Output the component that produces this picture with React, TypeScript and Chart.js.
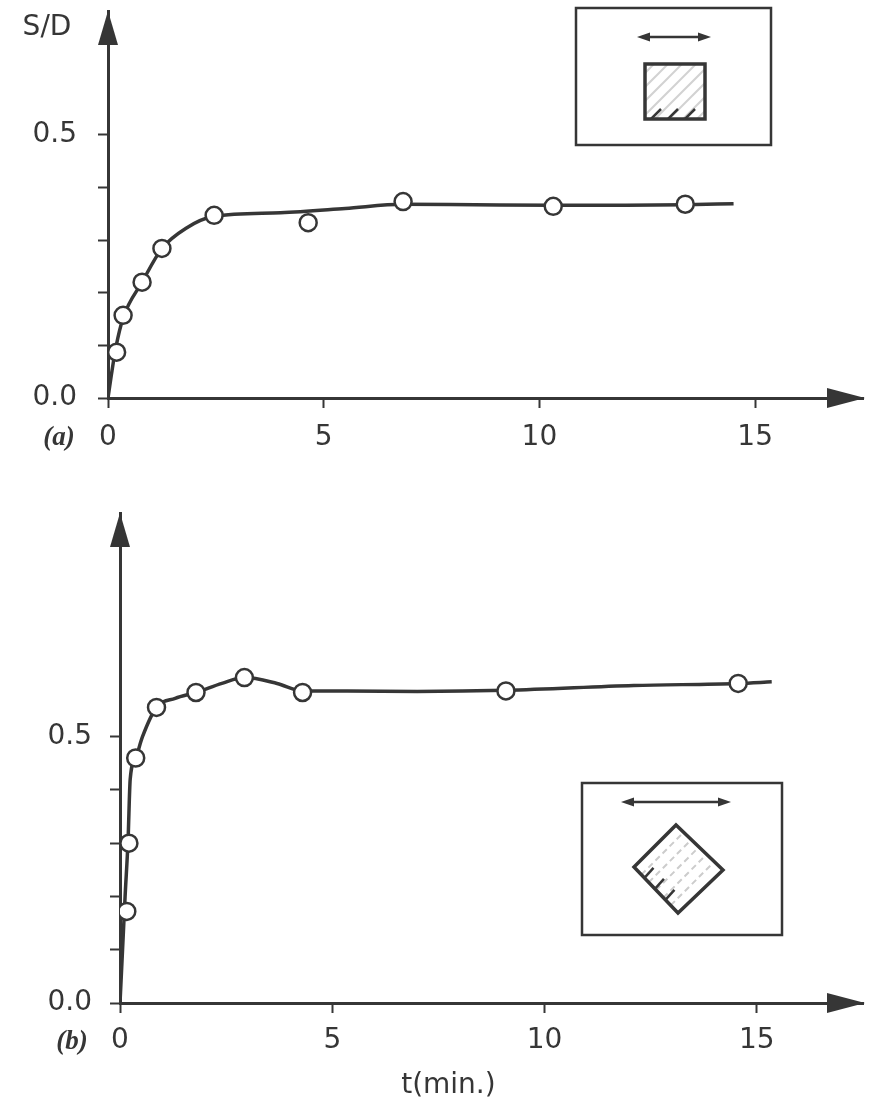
import React, { useEffect, useRef } from 'react';
import { Chart, registerables } from 'chart.js';

Chart.register(...registerables);

// ---------- data ----------
// Panel (a): square inclusion
const aPointsT = [0.2, 0.35, 0.79, 1.25, 2.46, 4.64, 6.84, 10.32, 13.38];
const aPointsSD = [0.087, 0.157, 0.22, 0.284, 0.347, 0.333, 0.373, 0.364, 0.368];
const aCurveT = [0, 0.08, 0.18, 0.35, 0.79, 1.25, 1.8, 2.46, 4.0, 5.5, 6.84, 8.5, 10.32, 12.0, 13.38, 14.5];
const aCurveSD = [0, 0.045, 0.095, 0.152, 0.22, 0.284, 0.322, 0.345, 0.352, 0.36, 0.368, 0.367, 0.366, 0.366, 0.367, 0.369];

// Panel (b): diamond inclusion
const bPointsT = [0.16, 0.21, 0.37, 0.86, 1.79, 2.93, 4.3, 9.09, 14.56];
const bPointsSD = [0.172, 0.3, 0.46, 0.555, 0.583, 0.611, 0.583, 0.586, 0.6];
const bCurveT = [0, 0.06, 0.12, 0.19, 0.24, 0.37, 0.53, 0.86, 1.3, 1.79, 2.4, 2.93, 3.7, 4.3, 5.35, 7.0, 9.09, 12.1, 14.56, 15.35];
const bCurveSD = [0, 0.1, 0.2, 0.306, 0.42, 0.46, 0.5, 0.555, 0.572, 0.583, 0.6, 0.611, 0.6, 0.586, 0.586, 0.585, 0.587, 0.596, 0.6, 0.603];

// axes
const xTickValues = [0, 5, 10, 15];
const yTickValues = [0, 0.1, 0.2, 0.3, 0.4, 0.5];
const yLabelValues = [0, 0.5];
const X_MAX = 17.5;
const A_Y_MAX = 0.735;
const B_Y_MAX = 0.92;

const INK = '#363636';
const FAMILY = "'DejaVu Sans', 'Liberation Sans', sans-serif";
const TICK_FONT = { family: FAMILY, size: 28, weight: 'normal' as any };

type Panel = {
  pointsT: number[];
  pointsSD: number[];
  curveT: number[];
  curveSD: number[];
  yMax: number;
  padTop: number;
  padRight: number;
  yAxisW: number;
  xAxisH: number;
  xPad: number;
  yPad: number;
  tag: string;
  kind: 'a' | 'b';
};

function arrowHead(ctx: CanvasRenderingContext2D, tx: number, ty: number, dir: 'up' | 'right') {
  ctx.beginPath();
  if (dir === 'up') {
    ctx.moveTo(tx, ty);
    ctx.lineTo(tx - 10, ty + 34);
    ctx.lineTo(tx + 10, ty + 34);
  } else {
    ctx.moveTo(tx + 2, ty);
    ctx.lineTo(tx - 36, ty - 10);
    ctx.lineTo(tx - 36, ty + 10);
  }
  ctx.closePath();
  ctx.fill();
}

function doubleArrow(ctx: CanvasRenderingContext2D, x1: number, x2: number, y: number) {
  ctx.lineWidth = 2.5;
  ctx.beginPath();
  ctx.moveTo(x1 + 6, y);
  ctx.lineTo(x2 - 6, y);
  ctx.stroke();
  ctx.beginPath();
  ctx.moveTo(x1, y);
  ctx.lineTo(x1 + 13, y - 4.5);
  ctx.lineTo(x1 + 13, y + 4.5);
  ctx.closePath();
  ctx.fill();
  ctx.beginPath();
  ctx.moveTo(x2, y);
  ctx.lineTo(x2 - 13, y - 4.5);
  ctx.lineTo(x2 - 13, y + 4.5);
  ctx.closePath();
  ctx.fill();
}

function drawInsetA(ctx: CanvasRenderingContext2D) {
  ctx.save();
  ctx.strokeStyle = INK;
  ctx.fillStyle = INK;
  ctx.lineWidth = 2.5;
  ctx.strokeRect(576, 8, 195, 137);
  doubleArrow(ctx, 637, 711, 37);
  // hatched square
  const sx = 645, sy = 64, sw = 60, sh = 55;
  ctx.save();
  ctx.beginPath();
  ctx.rect(sx, sy, sw, sh);
  ctx.clip();
  ctx.strokeStyle = '#d2d2d2';
  ctx.lineWidth = 2;
  for (let k = -60; k < 80; k += 14) {
    ctx.beginPath();
    ctx.moveTo(sx + k, sy + sh);
    ctx.lineTo(sx + k + sh, sy);
    ctx.stroke();
  }
  ctx.strokeStyle = INK;
  ctx.lineWidth = 2.5;
  for (let k = 0; k < 3; k++) {
    const bx = sx + 6 + k * 17;
    ctx.beginPath();
    ctx.moveTo(bx, sy + sh);
    ctx.lineTo(bx + 10, sy + sh - 10);
    ctx.stroke();
  }
  ctx.restore();
  ctx.lineWidth = 3.5;
  ctx.strokeRect(sx, sy, sw, sh);
  ctx.restore();
}

function drawInsetB(ctx: CanvasRenderingContext2D, oy: number) {
  ctx.save();
  ctx.strokeStyle = INK;
  ctx.fillStyle = INK;
  ctx.lineWidth = 2.5;
  ctx.strokeRect(582, 783 - oy, 200, 152);
  doubleArrow(ctx, 621, 731, 802 - oy);
  const L = [634, 867 - oy], T = [676, 825 - oy], R = [723, 870 - oy], B = [678, 913 - oy];
  ctx.save();
  ctx.beginPath();
  ctx.moveTo(L[0], L[1]);
  ctx.lineTo(T[0], T[1]);
  ctx.lineTo(R[0], R[1]);
  ctx.lineTo(B[0], B[1]);
  ctx.closePath();
  ctx.clip();
  ctx.strokeStyle = '#cccccc';
  ctx.lineWidth = 2;
  ctx.setLineDash([6, 4]);
  for (let k = 1; k < 6; k++) {
    const f = k / 6;
    const x0 = L[0] + (B[0] - L[0]) * f, y0 = L[1] + (B[1] - L[1]) * f;
    ctx.beginPath();
    ctx.moveTo(x0, y0);
    ctx.lineTo(x0 + (T[0] - L[0]), y0 + (T[1] - L[1]));
    ctx.stroke();
  }
  ctx.setLineDash([]);
  ctx.strokeStyle = INK;
  ctx.lineWidth = 2.5;
  for (let k = 1; k < 4; k++) {
    const f = k / 4.2;
    const x0 = L[0] + (B[0] - L[0]) * f, y0 = L[1] + (B[1] - L[1]) * f;
    ctx.beginPath();
    ctx.moveTo(x0, y0);
    ctx.lineTo(x0 + 9, y0 - 10);
    ctx.stroke();
  }
  ctx.restore();
  ctx.lineWidth = 3.5;
  ctx.beginPath();
  ctx.moveTo(L[0], L[1]);
  ctx.lineTo(T[0], T[1]);
  ctx.lineTo(R[0], R[1]);
  ctx.lineTo(B[0], B[1]);
  ctx.closePath();
  ctx.stroke();
  ctx.restore();
}

function makeChart(canvas: HTMLCanvasElement, p: Panel, offsetY: number) {
  const decorations = {
    id: 'decor-' + p.kind,
    afterDraw(chart: any) {
      const ctx: CanvasRenderingContext2D = chart.ctx;
      const ca = chart.chartArea;
      const xs = chart.scales.x;
      ctx.save();
      ctx.fillStyle = INK;
      ctx.strokeStyle = INK;
      arrowHead(ctx, ca.left, ca.top, 'up');
      arrowHead(ctx, ca.right, ca.bottom, 'right');
      ctx.textAlign = 'center';
      ctx.textBaseline = 'middle';
      ctx.font = "italic bold 27px 'Liberation Serif', serif";
      ctx.fillText(p.tag, p.kind === 'a' ? 59 : 72, ca.bottom + (p.kind === 'a' ? 40 : 39));
      ctx.font = `normal 28px ${FAMILY}`;
      if (p.kind === 'a') {
        ctx.fillText('S/D', 47, 28);
        drawInsetA(ctx);
      } else {
        ctx.fillText('t(min.)', xs.getPixelForValue(7.5) + 10, ca.bottom + 83);
        drawInsetB(ctx, offsetY);
      }
      ctx.restore();
    },
  };

  return new Chart(canvas, {
    type: 'scatter',
    data: {
      datasets: [
        {
          label: 'measured',
          data: p.pointsT.map((t, i) => ({ x: t, y: p.pointsSD[i] })),
          showLine: false,
          pointRadius: 8.5,
          pointBackgroundColor: '#ffffff',
          pointBorderColor: INK,
          pointBorderWidth: 2.5,
        },
        {
          label: 'fit',
          data: p.curveT.map((t, i) => ({ x: t, y: p.curveSD[i] })),
          showLine: true,
          pointRadius: 0,
          borderColor: INK,
          borderWidth: 3.5,
          tension: 0.4,
          cubicInterpolationMode: 'monotone',
          fill: false,
        } as any,
      ],
    },
    options: {
      animation: false,
      responsive: false,
      layout: { padding: { top: p.padTop, right: p.padRight, left: 0, bottom: 0 } },
      plugins: { legend: { display: false }, tooltip: { enabled: false } },
      scales: {
        x: {
          type: 'linear',
          min: 0,
          max: X_MAX,
          afterBuildTicks: (s: any) => {
            s.ticks = xTickValues.map((v) => ({ value: v }));
          },
          afterFit: (s: any) => {
            s.height = p.xAxisH;
            s.paddingLeft = 0;
            s.paddingRight = 0;
          },
          ticks: {
            autoSkip: false,
            maxRotation: 0,
            padding: p.xPad,
            color: INK,
            font: TICK_FONT,
            callback: (v: any) => String(v),
          },
          grid: { drawOnChartArea: false, drawTicks: true, tickLength: 10, tickWidth: 2, color: INK },
          border: { display: true, color: INK, width: 3 },
        },
        y: {
          type: 'linear',
          min: 0,
          max: p.yMax,
          afterBuildTicks: (s: any) => {
            s.ticks = yTickValues.map((v) => ({ value: v }));
          },
          afterFit: (s: any) => {
            s.width = p.yAxisW;
            s.paddingTop = 0;
            s.paddingBottom = 0;
          },
          ticks: {
            autoSkip: false,
            padding: p.yPad,
            color: INK,
            font: TICK_FONT,
            callback: (v: any) => (yLabelValues.some((l) => Math.abs(l - v) < 1e-6) ? Number(v).toFixed(1) : ''),
          },
          grid: { drawOnChartArea: false, drawTicks: true, tickLength: 10, tickWidth: 2, color: INK },
          border: { display: true, color: INK, width: 3 },
        },
      },
    },
    plugins: [decorations],
  } as any);
}

const panelA: Panel = {
  pointsT: aPointsT, pointsSD: aPointsSD, curveT: aCurveT, curveSD: aCurveSD,
  yMax: A_Y_MAX, padTop: 10, padRight: 11, yAxisW: 108, xAxisH: 72, xPad: 13, yPad: 21,
  tag: '(a)', kind: 'a',
};
const panelB: Panel = {
  pointsT: bPointsT, pointsSD: bPointsSD, curveT: bCurveT, curveSD: bCurveSD,
  yMax: B_Y_MAX, padTop: 43, padRight: 2, yAxisW: 120, xAxisH: 98, xPad: 11, yPad: 18,
  tag: '(b)', kind: 'b',
};

const TOP_H = 470;
const BOTTOM_H = 631;

export default function App() {
  const refA = useRef<HTMLCanvasElement>(null);
  const refB = useRef<HTMLCanvasElement>(null);
  useEffect(() => {
    const ca = makeChart(refA.current!, panelA, 0);
    const cb = makeChart(refB.current!, panelB, TOP_H);
    return () => {
      ca.destroy();
      cb.destroy();
    };
  }, []);
  return (
    <div style={{ position: 'absolute', left: 0, top: 0, width: 874, height: 1101, background: '#fff' }}>
      <canvas ref={refA} width={874} height={TOP_H} style={{ display: 'block', position: 'absolute', left: 0, top: 0 }} />
      <canvas ref={refB} width={874} height={BOTTOM_H} style={{ display: 'block', position: 'absolute', left: 0, top: TOP_H }} />
    </div>
  );
}
